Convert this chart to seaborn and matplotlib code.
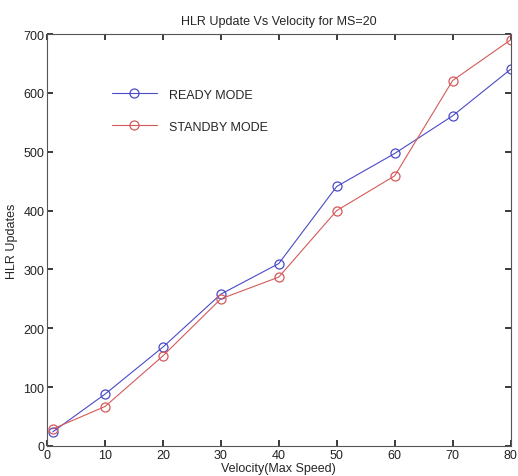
import matplotlib
matplotlib.use("Agg")
import matplotlib.pyplot as plt
import seaborn as sns
import pandas as pd

velocity = [1, 10, 20, 30, 40, 50, 60, 70, 80]
ready_mode = [24, 88, 168, 258, 310, 441, 497, 561, 640]
standby_mode = [29, 67, 153, 250, 287, 400, 459, 621, 690]
x_ticks = [0, 10, 20, 30, 40, 50, 60, 70, 80]
y_ticks = [0, 100, 200, 300, 400, 500, 600, 700]

df = pd.DataFrame({
    "Velocity": velocity * 2,
    "Updates": ready_mode + standby_mode,
    "Mode": ["READY MODE"] * len(velocity) + ["STANDBY MODE"] * len(velocity),
})

sns.set_theme(style="white")
plt.rcParams["font.family"] = ["Liberation Sans", "DejaVu Sans"]

fig = plt.figure(figsize=(5.18, 4.77), dpi=100)
ax = fig.add_axes([0.0907, 0.0629, 0.8950, 0.8637])

palette = {"READY MODE": "#4a4ac8", "STANDBY MODE": "#d45a5a"}
sns.lineplot(data=df, x="Velocity", y="Updates", hue="Mode", palette=palette,
             marker="o", markersize=6.5, markerfacecolor="none", markeredgewidth=0.9,
             linewidth=0.8, ax=ax)
for line in ax.lines:
    line.set_markeredgecolor(line.get_color())

ax.set_xlim(0, 80)
ax.set_ylim(0, 700)
ax.set_xticks(x_ticks)
ax.set_yticks(y_ticks)
ax.tick_params(direction="in", length=4, labelsize=9, top=True, right=True,
               bottom=True, left=True, labeltop=False, labelright=False,
               colors="#222222", pad=2)
for s in ax.spines.values():
    s.set_color("#555555")
    s.set_linewidth(0.8)
ax.set_title("HLR Update Vs Velocity for MS=20", fontsize=9, pad=7)
ax.set_xlabel("Velocity(Max Speed)", fontsize=9, labelpad=1)
ax.set_ylabel("HLR Updates", fontsize=9, labelpad=4)

leg = ax.legend(loc="upper left", bbox_to_anchor=(0.115, 0.895), frameon=False,
                fontsize=9, handlelength=3.6, handletextpad=1.0, labelspacing=1.6,
                title=None)
for h in leg.legend_handles:
    h.set_markerfacecolor("none")

fig.savefig("out.png", dpi=100)
